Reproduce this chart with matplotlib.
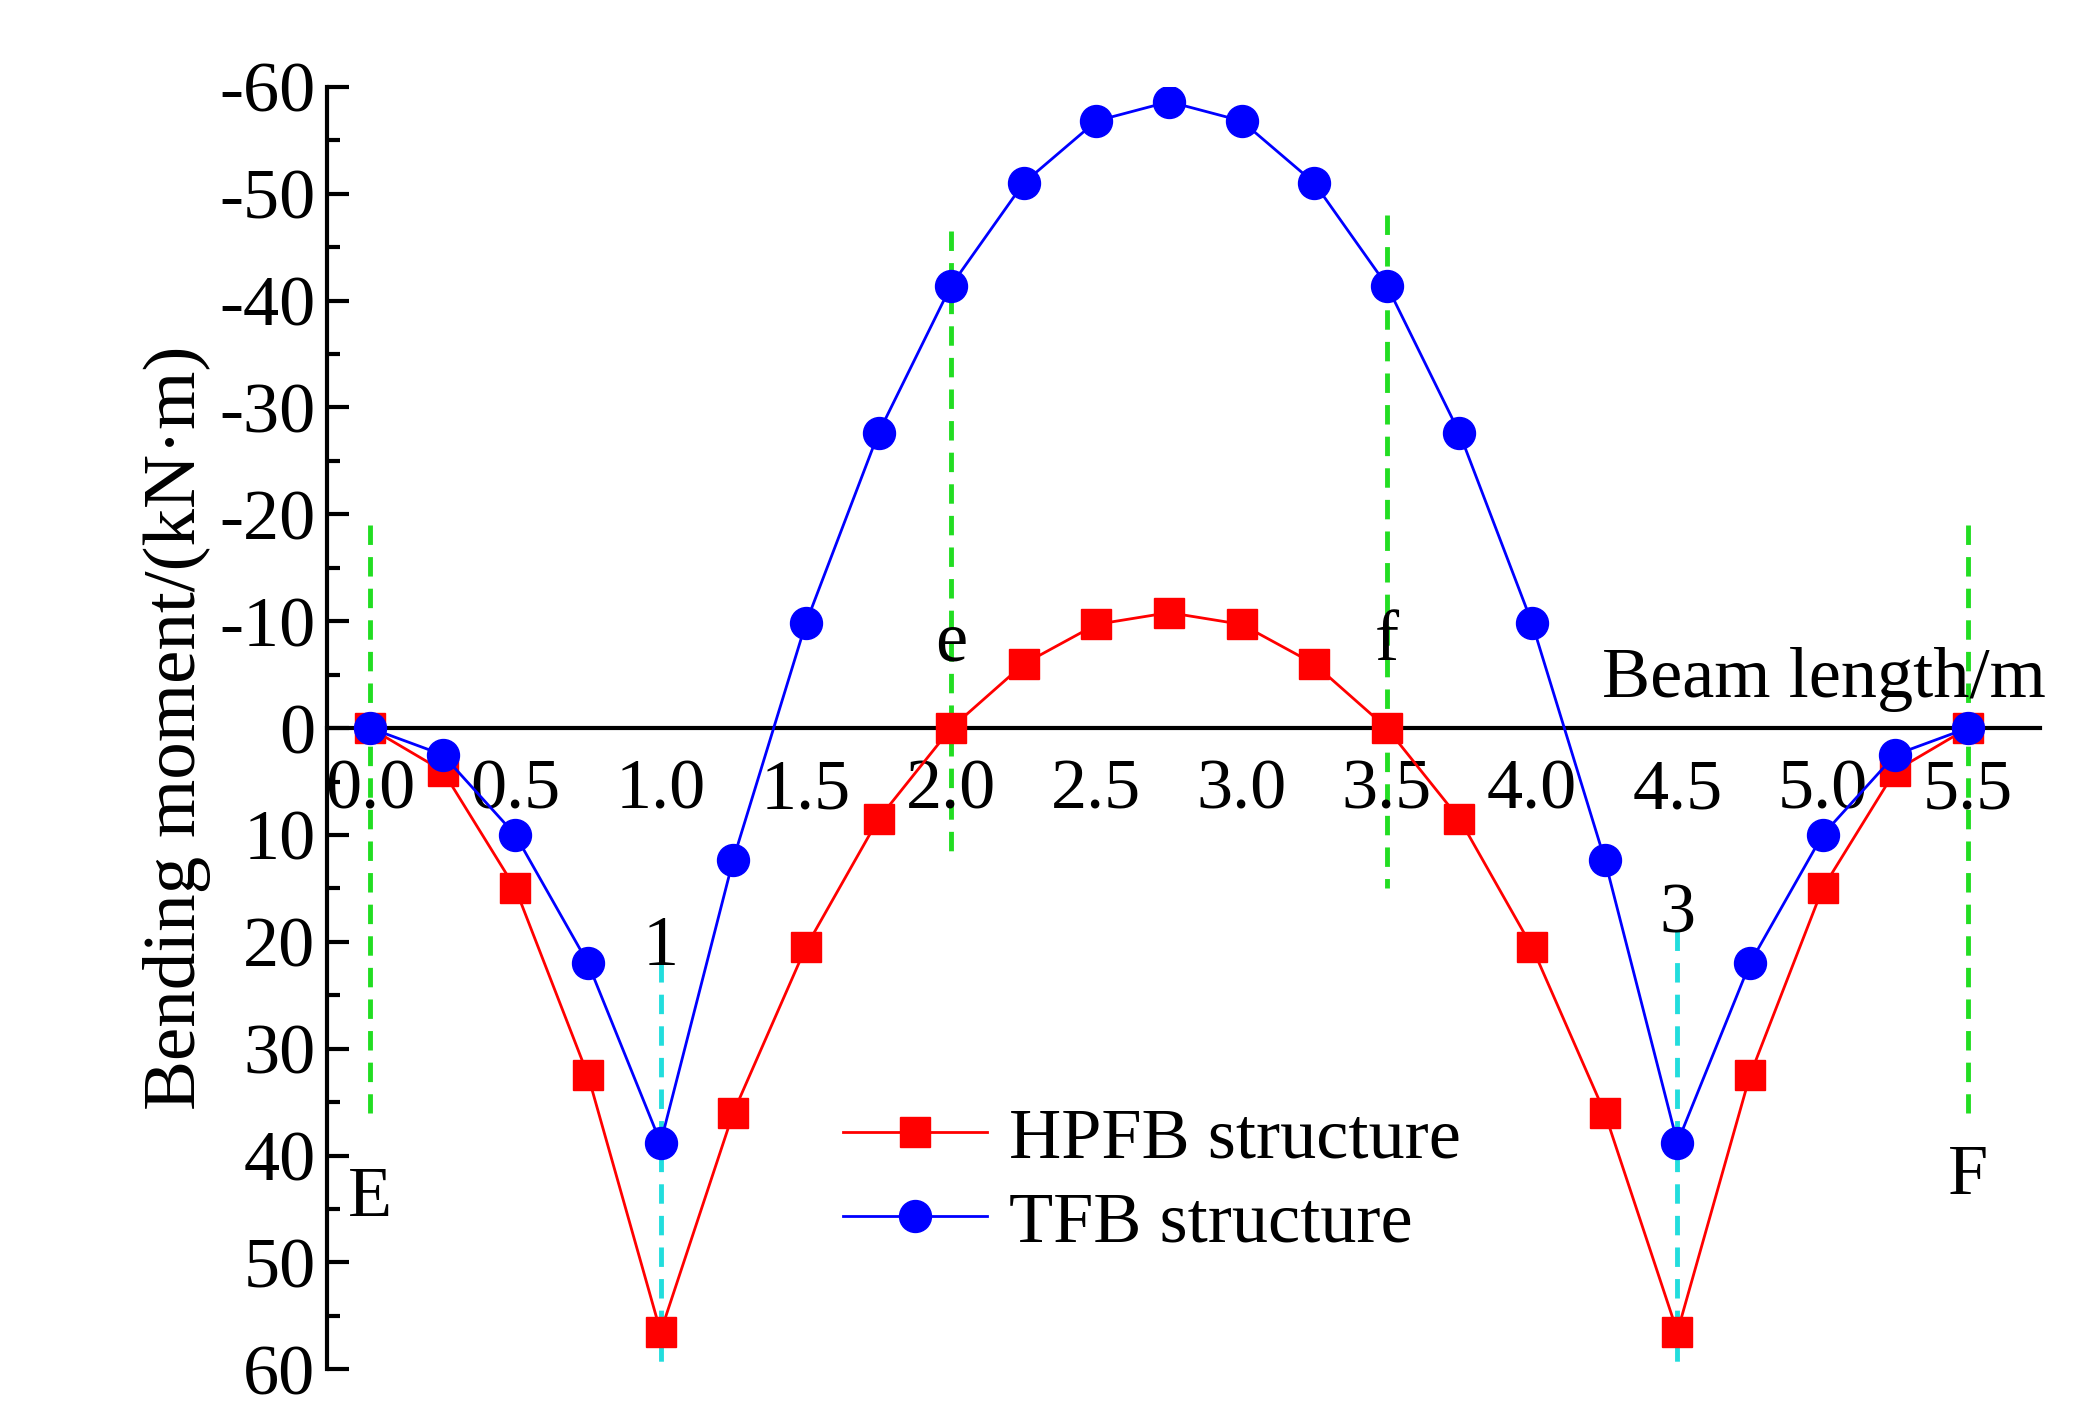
import matplotlib
matplotlib.use("Agg")
import matplotlib.pyplot as plt
from matplotlib.ticker import MultipleLocator

x = [i * 0.25 for i in range(23)]
hpfb = [0, 4, 15, 32.5, 56.5, 36, 20.5, 8.5, 0, -6, -9.7, -10.8, -9.7, -6, 0, 8.5, 20.5, 36, 56.5, 32.5, 15, 4, 0]
tfb = [0, 2.5, 10, 22, 38.8, 12.3, -9.8, -27.6, -41.4, -51, -56.8, -58.6, -56.8, -51, -41.4, -27.6, -9.8, 12.3, 38.8, 22, 10, 2.5, 0]
xticks = [0.0, 0.5, 1.0, 1.5, 2.0, 2.5, 3.0, 3.5, 4.0, 4.5, 5.0, 5.5]
yticks = [-60, -50, -40, -30, -20, -10, 0, 10, 20, 30, 40, 50, 60]

plt.rcParams['font.family'] = ['Liberation Serif', 'DejaVu Serif']
plt.rcParams['axes.unicode_minus'] = False
fig = plt.figure(figsize=(20.8, 14.22), dpi=100)
ax = fig.add_axes([0.157, 0.037, 0.824, 0.902])

for xv, (a, b) in [(0, (-19, 36)), (2, (-46.5, 12)), (3.5, (-48, 15)), (5.5, (-19, 36))]:
    ax.plot([xv, xv], [a, b], ls=(0, (4, 2.5)), color='#22dd22', lw=3.5, zorder=1)
for xv in [1, 4.5]:
    ax.plot([xv, xv], [19, 60], ls=(0, (4, 2.5)), color='#22dddd', lw=3.5, zorder=1)

ax.plot(x, hpfb, '-s', color='red', lw=2, ms=21, label='HPFB structure', zorder=3)
ax.plot(x, tfb, '-o', color='blue', lw=2, ms=23, label='TFB structure', zorder=4)

ax.set_xlim(-0.15, 5.75)
ax.set_ylim(60, -60)
ax.spines['top'].set_visible(False)
ax.spines['right'].set_visible(False)
ax.spines['bottom'].set_position(('data', 0))
ax.spines['bottom'].set_linewidth(3)
ax.spines['left'].set_linewidth(3)
ax.set_xticks(xticks)
ax.set_xticklabels([f"{v:.1f}" for v in xticks])
ax.set_yticks(yticks)
ax.yaxis.set_minor_locator(MultipleLocator(5))
ax.tick_params(axis='y', direction='in', length=16, width=3, labelsize=52, pad=8)
ax.tick_params(axis='y', which='minor', direction='in', length=9, width=3)
ax.tick_params(axis='x', direction='in', length=0, labelsize=52, pad=22)
ax.set_ylabel('Bending moment/(kN·m)', fontsize=54, labelpad=6)

fs = 52
ax.text(0, 44, 'E', fontsize=fs, ha='center', va='center')
ax.text(5.5, 42, 'F', fontsize=fs, ha='center', va='center')
ax.text(2, -8, 'e', fontsize=fs, ha='center', va='center')
ax.text(3.5, -8, 'f', fontsize=fs, ha='center', va='center')
ax.text(1, 20.5, '1', fontsize=fs, ha='center', va='center')
ax.text(4.5, 17.5, '3', fontsize=fs, ha='center', va='center')
ax.text(5.77, -4.5, 'Beam length/m', fontsize=fs, ha='right', va='center')

ax.legend(loc='lower left', bbox_to_anchor=(0.28, 0.06), frameon=False, fontsize=52,
          handlelength=2.0, handletextpad=0.3, labelspacing=0.25, borderpad=0)

fig.savefig('out.png', dpi=100)
